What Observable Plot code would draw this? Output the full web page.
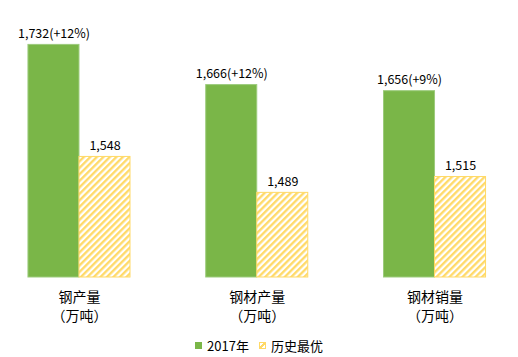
<!DOCTYPE html>
<html><head><meta charset="utf-8">
<script src="https://cdn.jsdelivr.net/npm/d3@7"></script>
<script src="https://cdn.jsdelivr.net/npm/@observablehq/plot@0.6"></script>
<style>
body{margin:0;background:#fff;font-family:"Noto Sans CJK SC","Noto Sans",sans-serif;}
#legend{width:518px;height:27px;display:flex;justify-content:center;align-items:center;font-size:13px;color:#000;margin-top:2px;}
.item{display:flex;align-items:center;margin:0 5px;}
.sw{width:7px;height:7px;margin-right:5px;box-sizing:border-box;}
</style>
</head><body>
<div id="chart"></div>
<div id="legend"></div>
<script>
const categories = ["钢产量", "钢材产量", "钢材销量"];
const unitLabel = "（万吨）";
const series = ["2017年", "历史最优"];
const values2017 = [1732, 1666, 1656];
const growth2017 = ["+12%", "+12%", "+9%"];
const valuesBest = [1548, 1489, 1515];
const yDomain = [1350, 1800];

const fmt = d3.format(",");
const data = categories.flatMap((c, i) => [
  {cat: c, series: series[0], value: values2017[i], label: `${fmt(values2017[i])}(${growth2017[i]})`},
  {cat: c, series: series[1], value: valuesBest[i], label: fmt(valuesBest[i])}
]);

const green = "#7AB648", greenEdge = "#9CCB7C", yellow = "#FFD966";

const chart = Plot.plot({
  width: 518, height: 330,
  marginTop: 3, marginBottom: 53, marginLeft: 10, marginRight: 14.5,
  style: {fontFamily: '"Noto Sans CJK SC","Noto Sans",sans-serif', fontSize: "12px", color: "#000", background: "#fff"},
  fx: {domain: categories, paddingInner: 0.426, paddingOuter: 0.101, round: false, label: null, axis: null},
  x: {domain: series, padding: 0, round: false, axis: null},
  y: {domain: yDomain, axis: null},
  marks: [
    Plot.barY(data.filter(d => d.series === series[0]), {fx: "cat", x: "series", y1: yDomain[0], y2: "value", fill: green, stroke: greenEdge, strokeWidth: 1}),
    Plot.barY(data.filter(d => d.series === series[1]), {fx: "cat", x: "series", y1: yDomain[0], y2: "value", fill: "url(#hatch)", stroke: yellow, strokeWidth: 1}),
    Plot.text(data, {fx: "cat", x: "series", y: "value", text: "label", lineAnchor: "bottom", dy: -7, fontSize: 12.5, fill: "#000"}),
    Plot.axisFx({anchor: "bottom", tickSize: 0, tickPadding: 12, fontSize: 14, lineHeight: 1.3, tickFormat: c => c + "\n" + unitLabel, label: null, fill: "#000"})
  ]
});

d3.select(chart).insert("defs", ":first-child").html(
  `<pattern id="hatch" patternUnits="userSpaceOnUse" width="4.6" height="4.6" patternTransform="rotate(45)">
     <rect width="4.6" height="4.6" fill="#fff"/>
     <line x1="1.2" y1="0" x2="1.2" y2="4.6" stroke="${yellow}" stroke-width="2.3"/>
   </pattern>`);

document.getElementById("chart").append(chart);

const legend = d3.select("#legend");
const it1 = legend.append("div").attr("class", "item");
it1.append("div").attr("class", "sw").style("background", green);
it1.append("span").text(series[0]);
const it2 = legend.append("div").attr("class", "item");
it2.append("div").attr("class", "sw").style("border", `1px solid ${yellow}`)
   .style("background", `linear-gradient(135deg, #fff 35%, ${yellow} 35%, ${yellow} 65%, #fff 65%)`);
it2.append("span").text(series[1]);
</script>
</body></html>
